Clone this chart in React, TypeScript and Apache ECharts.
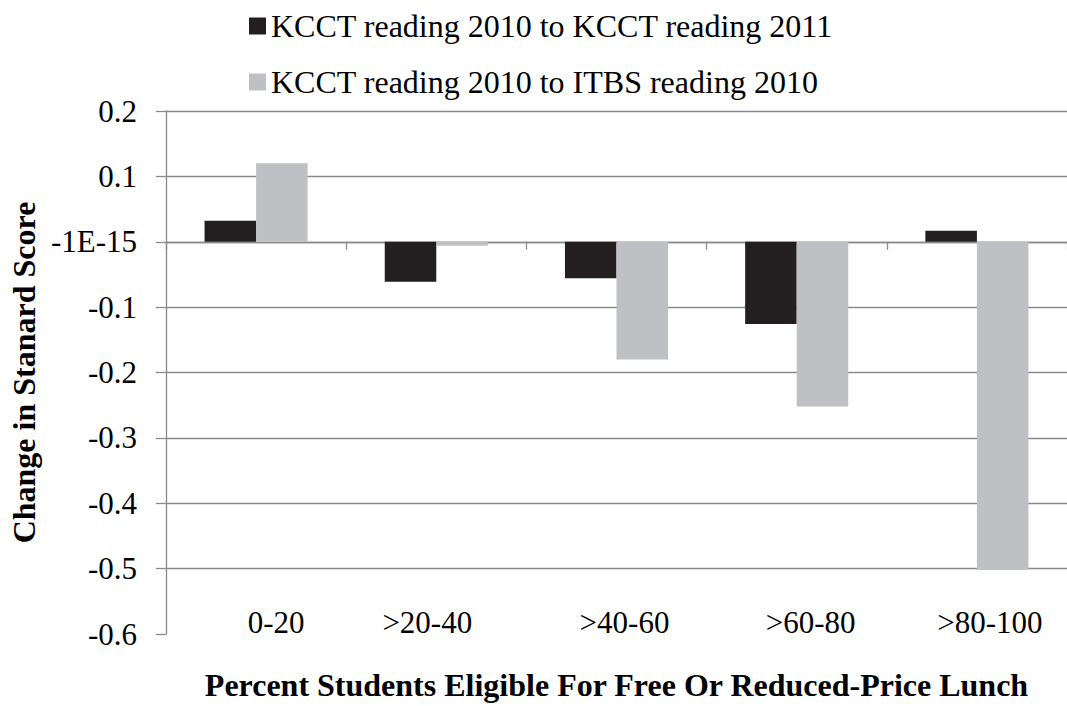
import React, { useEffect, useRef } from "react";
import * as echarts from "echarts";

const categories = ["0-20", ">20-40", ">40-60", ">60-80", ">80-100"];
const seriesNames = [
  "KCCT reading 2010 to KCCT reading 2011",
  "KCCT reading 2010 to ITBS reading 2010",
];
const kcct2011 = [0.032, -0.061, -0.056, -0.126, 0.017];
const itbs2010 = [0.12, -0.006, -0.18, -0.252, -0.502];
const yTickLabels = ["-0.6", "-0.5", "-0.4", "-0.3", "-0.2", "-0.1", "-1E-15", "0.1", "0.2"];
const xTitle = "Percent Students Eligible For Free Or Reduced-Price Lunch";
const yTitle = "Change in Stanard Score";

const FONT = "Times New Roman, Liberation Serif, DejaVu Serif, serif";
const AXIS_GRAY = "#8a8a8a";
// horizontal nudges (px) of the category labels, as placed in the original
const LABEL_NUDGE = [20, -9, 8, 14, 13];

export default function App() {
  const ref = useRef<HTMLDivElement>(null);
  useEffect(() => {
    if (!ref.current) return;
    const chart = echarts.init(ref.current, undefined, { renderer: "svg" });
    const rich: Record<string, any> = {};
    LABEL_NUDGE.forEach((d, i) => {
      rich["n" + i] = {
        fontFamily: FONT,
        fontSize: 31,
        color: "#000",
        padding: d >= 0 ? [0, 0, 0, 2 * d] : [0, -2 * d, 0, 0],
      };
    });
    chart.setOption({
      animation: false,
      backgroundColor: "#ffffff",
      textStyle: { fontFamily: FONT },
      legend: {
        orient: "vertical",
        left: 249,
        top: 10,
        padding: 0,
        itemWidth: 17,
        itemHeight: 17,
        itemGap: 24,
        icon: "rect",
        data: seriesNames,
        textStyle: { fontFamily: FONT, fontSize: 32, color: "#000", lineHeight: 32 },
      },
      grid: { left: 165, top: 111, width: 913, height: 528, containLabel: false },
      xAxis: [
        {
          type: "category",
          data: categories,
          position: "bottom",
          axisLine: { show: true, onZero: true, lineStyle: { color: AXIS_GRAY, width: 1.3 } },
          axisTick: { show: true, length: 8, lineStyle: { color: AXIS_GRAY, width: 1.3 } },
          axisLabel: { show: false },
          splitLine: { show: false },
        },
        {
          type: "category",
          data: categories,
          position: "bottom",
          axisLine: { show: false, onZero: false },
          axisTick: { show: false },
          axisLabel: {
            show: true,
            interval: 0,
            hideOverlap: false,
            margin: -27,
            fontFamily: FONT,
            fontSize: 31,
            color: "#000",
            formatter: (v: string, i: number) => `{n${i}|${v}}`,
            rich,
          },
          splitLine: { show: false },
          name: xTitle,
          nameLocation: "middle",
          nameGap: 35,
          nameTextStyle: { fontFamily: FONT, fontSize: 32, fontWeight: "bold", color: "#000" },
        },
      ],
      yAxis: {
        type: "value",
        min: -0.6,
        max: 0.2,
        interval: 0.1,
        axisLine: { show: true, lineStyle: { color: AXIS_GRAY, width: 1.3 } },
        axisTick: { show: true, length: 10, lineStyle: { color: AXIS_GRAY, width: 1.3 } },
        axisLabel: {
          margin: 29,
          fontFamily: FONT,
          fontSize: 31,
          color: "#000",
          formatter: (v: number) => yTickLabels[Math.round((v + 0.6) * 10)] ?? "",
        },
        splitLine: { show: true, showMinLine: false, lineStyle: { color: AXIS_GRAY, width: 1.3 } },
        name: yTitle,
        nameLocation: "middle",
        nameGap: 122,
        nameTextStyle: { fontFamily: FONT, fontSize: 32, fontWeight: "bold", color: "#000" },
      },
      series: [
        {
          name: seriesNames[0],
          type: "bar",
          data: kcct2011,
          xAxisIndex: 0,
          barGap: "0%",
          barCategoryGap: "42.8%",
          itemStyle: { color: "#231f20" },
        },
        {
          name: seriesNames[1],
          type: "bar",
          data: itbs2010,
          xAxisIndex: 0,
          barGap: "0%",
          barCategoryGap: "42.8%",
          itemStyle: { color: "#bfc0c4" },
        },
      ],
    });
    return () => chart.dispose();
  }, []);
  return (
    <div
      ref={ref}
      style={{ position: "fixed", left: 0, top: 0, width: 1067, height: 706, background: "#fff" }}
    />
  );
}
